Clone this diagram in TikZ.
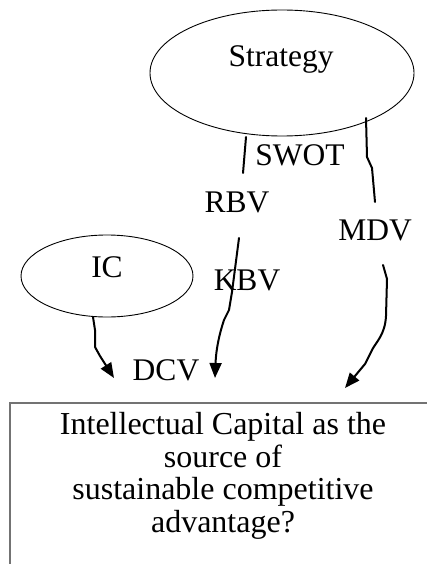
\documentclass[tikz,border=0pt]{standalone}
\usepackage{fontspec}
\setmainfont{Liberation Serif}
\usetikzlibrary{shapes.geometric,arrows.meta}
\begin{document}
\begin{tikzpicture}[x=1pt,y=-1pt,
  bubble/.style={draw=black,line width=0.9pt,ellipse,inner sep=0pt},
  lbl/.style={inner sep=0pt,anchor=base,font=\fontsize{31.5}{33}\selectfont},
  wire/.style={line width=2pt,line cap=round,line join=round},
  arrowwire/.style={wire,-{Triangle[length=15pt,width=12pt]}},
  frame/.style={draw=black!55,line width=1.3pt}]
\useasboundingbox (0,0) rectangle (427,564);

% ellipses
\node[bubble,minimum width=264pt,minimum height=126pt] (strat) at (282,73) {};
\node[lbl] at (281,67) {Strategy};
\node[bubble,minimum width=172pt,minimum height=82pt] (ic) at (107,276) {};
\node[lbl] at (107,277) {IC};

% labels
\node[lbl] (swot) at (300,165) {SWOT};
\node[lbl] (rbv) at (237,212) {RBV};
\node[lbl] (mdv) at (375,240) {MDV};
\node[lbl] (kbv) at (247,290) {KBV};
\node[lbl] (dcv) at (166,380) {DCV};

% outcome box (runs off the lower right)
\draw[frame] (440,403) -- (10,403) -- (10,580);
% base anchor of a multi-line node sits on its last line
\node[inner sep=0pt,anchor=base,align=center,font=\fontsize{32}{32.5}\selectfont] (goal) at (223,532)
  {Intellectual Capital as the\\source of\\sustainable competitive\\advantage?};

% hand-drawn connectors
\coordinate (s1) at (246,137);
\coordinate (s2) at (243,173);
\draw[wire] (s1) -- (s2);

\coordinate (m1) at (366,118);
\coordinate (m2) at (367,157);
\coordinate (m3) at (372,168);
\coordinate (m4) at (375,202);
\draw[wire] (m1) -- (m2) -- (m3) -- (m4);

\coordinate (k1) at (239,238);
\coordinate (k2) at (232,292);
\coordinate (k3) at (229,310);
\coordinate (k4) at (224,320);
\coordinate (k5) at (215,378);
\draw[arrowwire] (k1) -- (k2) -- (k3) -- (k4) .. controls (219,335) and (216,350) .. (k5);

\coordinate (d1) at (383,265);
\coordinate (d2) at (387,279);
\coordinate (d3) at (386,316);
\coordinate (d4) at (372,350);
\coordinate (d5) at (365,364);
\coordinate (d6) at (345,388);
\draw[arrowwire] (d1) -- (d2) -- (d3) .. controls (385,335) and (376,342) .. (d4)
  -- (d5) -- (d6);

\coordinate (i1) at (93,317);
\coordinate (i2) at (95,330);
\coordinate (i3) at (95,347);
\coordinate (i4) at (100,356);
\coordinate (i5) at (114,378);
\draw[arrowwire] (i1) -- (i2) -- (i3) -- (i4) -- (i5);
\end{tikzpicture}
\end{document}
